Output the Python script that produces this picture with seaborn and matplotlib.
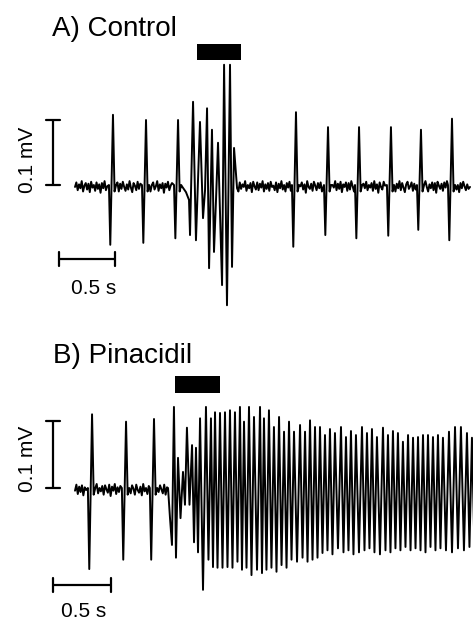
import pandas as pd
import seaborn as sns
import matplotlib.pyplot as plt

# ---------------- A) Control ----------------
# isolated spikes: time of the upstroke peak (ms), peak and trough (uV)
a_spike_ms = [339, 634, 920, 1973, 2259, 2536, 2821, 3089, 3366]
a_spike_up_uv = [108, 100, 100, 112, 89, 89, 89, 85, 102]
a_spike_down_uv = [-92, -89, -82, -95, -77, -82, -78, -69, -85]

# burst under the black bar (turning points)
a_burst_ms = [955, 991, 1018, 1027, 1054, 1080, 1116, 1143, 1161, 1179, 1197,
              1223, 1241, 1259, 1277, 1313, 1331, 1357, 1384, 1402, 1420, 1447]
a_burst_uv = [-2, -11, -23, -77, 128, -85, 97, -51, -8, 118, -128,
              85, -103, -23, 65, -154, 185, -185, 185, -126, 57, -5]

a_bar_ms = [1089, 1482]
a_end_ms = 3527

# baseline noise (uV), read as a fuzzy band around zero
a_noise_uv = [-3, 4, -8, 1, -5, 6, -10, -1, 3, -7, 2, -11, 5, -4, 0, -9, 4, -6, 1, -12,
              3, -5, 6, -8, -2, 4, -10, 2, -6, 5, -3, -9, 1, -7, 6, -4, -11, 3, -1, -8,
              5, -6, 2, -10, 0, 4, -7, -2, 6, -9, 1, -5, 3, -12, 2, -4, 5, -8, -1, 3,
              -10, 4, -6, 1, -3, 6, -9, 0, -5, 3, -11, 5, -2, -7, 4, -8, 2, -4, 6, -10,
              1, -6, 3, -9, 5, -3, -1, -8, 4, -11, 2, -5, 6, -7, 0, -10, 3, -4, 5, -9,
              -2, 4, -7, 1, -12, 6, -3, -6, 2, -9, 5, -1, -8, 3, -5, 4, -10, 0, -4, 6,
              -8, 2, -6, 5, -11, 1, -3, 4, -9, 3, -7, 6, -2, -10, 2, -5, 5, -8, 0, -4,
              3, -9, 6, -6, 1, -12, 4, -3, -7, 5, -1, -10, 2, -5, 6, -8, 3, -4, -11, 1,
              5, -6, -2, 4, -9, 2, -7, 6, -3, -10, 1, -5, 4, -8, 3, -12, 5, -1, -6, 2,
              -9, 4, -4, 6, -7, 0, -11, 3, -5, 5, -2, -8, 1, -6, 4, -10, 2, -3, 6, -9,
              1, -7, 3, -4, 5, -11, 2, -6, 4, -8]

# ---------------- B) Pinacidil ----------------
b_spike_ms = [147, 440, 681]
b_spike_up_uv = [110, 99, 103]
b_spike_down_uv = [-121, -107, -107]

# sag just before the fast activity
b_onset_ms = [802, 819, 836]
b_onset_uv = [0, -45, -85]

# fast oscillation: peak times (ms), peak values and the following trough (uV)
b_osc_ms = [853, 888, 931, 965, 1009, 1043, 1078, 1129, 1172, 1207,
            1250, 1293, 1336, 1379, 1422, 1457, 1500, 1543, 1595, 1629,
            1672, 1715, 1759, 1802, 1845, 1888, 1940, 1983, 2026, 2069,
            2112, 2155, 2198, 2241, 2293, 2336, 2379, 2422, 2474, 2517,
            2560, 2603, 2655, 2698, 2741, 2784, 2827, 2871, 2914, 2957,
            3000, 3043, 3086, 3129, 3172, 3224, 3276, 3327, 3379, 3422]
b_osc_up_uv = [121, 45, 24, 90, 64, 60, 104, 121, 104, 113,
               112, 113, 116, 113, 121, 99, 121, 106, 121, 104,
               116, 91, 106, 84, 99, 84, 94, 84, 101, 91,
               91, 79, 88, 82, 91, 76, 85, 79, 91, 82,
               88, 76, 90, 79, 85, 82, 69, 79, 75, 76,
               79, 79, 76, 79, 75, 84, 91, 91, 82, 75]
b_osc_down_uv = [-104, -45, -25, -25, -81, -96, -152, -107, -118, -119,
                 -119, -118, -119, -110, -122, -119, -130, -122, -127, -122,
                 -119, -125, -115, -119, -107, -110, -104, -110, -107, -104,
                 -97, -93, -99, -90, -96, -93, -99, -96, -93, -90,
                 -96, -99, -93, -96, -90, -93, -88, -93, -90, -93,
                 -96, -88, -93, -90, -93, -96, -90, -93, -88, -90]

b_bar_ms = [862, 1250]
b_end_ms = 3460

b_noise_uv = [-4, 5, -9, 2, -6, 4, -11, 1, -3, 6, -8, 0, -5, 3, -10, 4, -2, -7, 5, -12,
              2, -4, 6, -9, 1, -6, 3, -8, 4, -1, -10, 5, -3, -7, 2, -11, 6, -5, 0, -9,
              3, -6, 4, -2, -8, 5, -10, 1, -4, 6, -7, 2, -9, 3, -5]


def spike_block(t, up, down):
    # biphasic spike: trough just before the upstroke, small undershoot after
    return [(t - 36, 0), (t - 24, down), (t, up), (t + 14, -10), (t + 28, 0)]


def osc_block(times, ups, downs):
    pts = []
    for i, t in enumerate(times):
        pts.append((t, ups[i]))
        if i + 1 < len(times):
            half = (times[i + 1] - t) / 2
        else:
            half = (t - times[i - 1]) / 2
        pts.append((t + half, downs[i]))
    return pts


def build_trace(blocks, noise, t_end, dt=12):
    pts = []
    k = 0
    cur = 0
    for blk in blocks + [[(t_end, noise[0])]]:
        start = blk[0][0]
        while cur < start - dt / 2:
            pts.append((cur, noise[k % len(noise)]))
            k += 1
            cur += dt
        pts.extend(blk)
        cur = blk[-1][0] + dt
    return pd.DataFrame(pts, columns=['ms', 'uv'])


blocks_a = [spike_block(t, u, d) for t, u, d in zip(a_spike_ms[:3], a_spike_up_uv[:3], a_spike_down_uv[:3])]
blocks_a.append(list(zip(a_burst_ms, a_burst_uv)))
blocks_a += [spike_block(t, u, d) for t, u, d in zip(a_spike_ms[3:], a_spike_up_uv[3:], a_spike_down_uv[3:])]
trace_a = build_trace(blocks_a, a_noise_uv, a_end_ms)

blocks_b = [spike_block(t, u, d) for t, u, d in zip(b_spike_ms, b_spike_up_uv, b_spike_down_uv)]
blocks_b.append(list(zip(b_onset_ms, b_onset_uv)) + osc_block(b_osc_ms, b_osc_up_uv, b_osc_down_uv))
trace_b = build_trace(blocks_b, b_noise_uv, b_end_ms)

# ---------------- plot ----------------
sns.set_theme(style="white")
plt.rcParams['font.family'] = ['Liberation Sans', 'DejaVu Sans']
plt.rcParams['text.color'] = 'black'

W, H = 473, 623
fig = plt.figure(figsize=(W / 100, H / 100), dpi=100)


def panel(top_px, bottom_px, base_px, px_per_ms, px_per_uv, x0_px=75):
    ax = fig.add_axes([0, 1 - bottom_px / H, 1, (bottom_px - top_px) / H])
    ax.set_xlim(-x0_px / px_per_ms, (W - x0_px) / px_per_ms)
    ax.set_ylim((base_px - bottom_px) / px_per_uv, (base_px - top_px) / px_per_uv)
    ax.set_axis_off()
    return ax


def scale_bars(ax, vx, vcap, hy, hx0, hcap, mv_text, s_text):
    ax.plot([vx, vx], [0, 100], color='black', lw=1.6, solid_capstyle='butt')
    ax.plot([vx - vcap, vx + vcap], [0, 0], color='black', lw=1.6)
    ax.plot([vx - vcap, vx + vcap], [100, 100], color='black', lw=1.6)
    ax.plot([hx0, hx0 + 500], [hy, hy], color='black', lw=1.6, solid_capstyle='butt')
    ax.plot([hx0, hx0], [hy - hcap, hy + hcap], color='black', lw=1.6)
    ax.plot([hx0 + 500, hx0 + 500], [hy - hcap, hy + hcap], color='black', lw=1.6)
    ax.text(mv_text[0], mv_text[1], '0.1 mV', rotation=90, ha='center', va='center', fontsize=15)
    ax.text(s_text[0], s_text[1], '0.5 s', ha='center', va='center', fontsize=15)


# A
ax_a = panel(0, 320, 185, 0.112, 0.65)
sns.lineplot(data=trace_a, x='ms', y='uv', ax=ax_a, sort=False, estimator=None,
             color='black', lw=1.4)
ax_a.fill_between(a_bar_ms, 192, 217, color='black', lw=0)
scale_bars(ax_a, -196, 62, -114, -143, 11, (-424, 38), (165, -160))
ax_a.set_axis_off()
fig.text(52 / W, 1 - 36 / H, 'A) Control', fontsize=20, va='baseline', ha='left')

# B
ax_b = panel(320, 623, 488, 0.116, 0.67)
sns.lineplot(data=trace_b, x='ms', y='uv', ax=ax_b, sort=False, estimator=None,
             color='black', lw=1.4)
ax_b.fill_between(b_bar_ms, 142, 167, color='black', lw=0)
scale_bars(ax_b, -190, 60, -145, -190, 10, (-409, 43), (73, -185))
ax_b.set_axis_off()
fig.text(53 / W, 1 - 363 / H, 'B) Pinacidil', fontsize=20, va='baseline', ha='left')

fig.savefig('out.png', dpi=100)
